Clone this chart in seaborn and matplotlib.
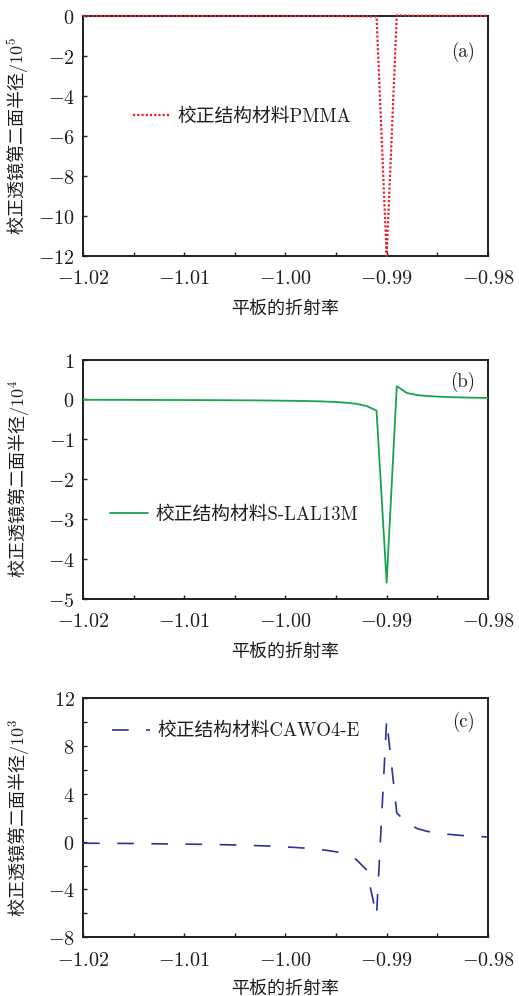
import matplotlib
matplotlib.use("Agg")
import matplotlib.pyplot as plt
import seaborn as sns
import pandas as pd
from matplotlib.ticker import MultipleLocator, FuncFormatter
from matplotlib.font_manager import FontProperties

# refractive index of the flat plate (x axis)
plate_index = [
    -1.020, -1.019, -1.018, -1.017, -1.016, -1.015, -1.014, -1.013, -1.012, -1.011,
    -1.010, -1.009, -1.008, -1.007, -1.006, -1.005, -1.004, -1.003, -1.002, -1.001,
    -1.000, -0.999, -0.998, -0.997, -0.996, -0.995, -0.994, -0.993, -0.992, -0.991,
    -0.990, -0.989, -0.988, -0.987, -0.986, -0.985, -0.984, -0.983, -0.982, -0.981,
    -0.980,
]

# second-surface radius of the correcting lens, PMMA (units of 1e5)
radius_pmma = [
    -0.001, -0.001, -0.001, -0.001, -0.001, -0.001, -0.001, -0.001, -0.002, -0.002,
    -0.002, -0.002, -0.002, -0.002, -0.002, -0.002, -0.003, -0.003, -0.003, -0.003,
    -0.004, -0.004, -0.005, -0.005, -0.006, -0.007, -0.009, -0.012, -0.018, -0.030,
    -12.0, 0.030, 0.015, 0.010, 0.008, 0.007, 0.006, 0.005, 0.004, 0.004,
    0.004,
]

# S-LAL13M (units of 1e4)
radius_slal13m = [
    -0.010, -0.011, -0.011, -0.012, -0.012, -0.013, -0.013, -0.014, -0.015, -0.015,
    -0.016, -0.017, -0.018, -0.019, -0.020, -0.022, -0.023, -0.025, -0.027, -0.030,
    -0.033, -0.036, -0.041, -0.047, -0.055, -0.066, -0.083, -0.110, -0.165, -0.280,
    -4.60, 0.33, 0.16, 0.11, 0.085, 0.070, 0.060, 0.052, 0.046, 0.041,
    0.037,
]

# CAWO4-E (units of 1e3)
radius_cawo4 = [
    -0.13, -0.14, -0.14, -0.15, -0.15, -0.16, -0.17, -0.18, -0.19, -0.20,
    -0.21, -0.22, -0.23, -0.25, -0.26, -0.28, -0.30, -0.33, -0.36, -0.40,
    -0.45, -0.49, -0.55, -0.62, -0.72, -0.85, -1.08, -1.50, -2.35, -6.20,
    10.2, 2.40, 1.55, 1.10, 0.86, 0.72, 0.62, 0.54, 0.48, 0.43,
    0.39,
]

series_labels = ["校正结构材料PMMA", "校正结构材料S-LAL13M", "校正结构材料CAWO4-E"]
panel_tags = ["(a)", "(b)", "(c)"]
y_labels = ["校正透镜第二面半径$/10^5$", "校正透镜第二面半径$/10^4$", "校正透镜第二面半径$/10^3$"]
x_label = "平板的折射率"

sns.set_style("white")
plt.rcParams["mathtext.fontset"] = "cm"
plt.rcParams["font.family"] = ["Noto Sans CJK SC", "DejaVu Sans"]

INK = "#1e1e1e"
mixed = ["cmr10", "Noto Sans CJK SC", "DejaVu Serif"]
legend_font = FontProperties(family=mixed, size=13.5)
label_font = FontProperties(family=mixed, size=13)
ylabel_font = FontProperties(family="Noto Sans CJK SC", size=13)
tag_font = FontProperties(family=mixed, size=13.5)

fig = plt.figure(figsize=(5.19, 9.96), dpi=100)

axes_boxes = [
    [0.160, 0.743, 0.780, 0.241],
    [0.160, 0.399, 0.780, 0.240],
    [0.160, 0.059, 0.780, 0.240],
]

styles = [
    dict(color="#e8212b", linewidth=1.6, linestyle=(0, (1.0, 0.9))),
    dict(color="#17a54a", linewidth=1.3, linestyle="-"),
    dict(color="#2b3196", linewidth=1.2, linestyle=(0, (10.0, 10.5))),
]

y_limits = [(-12, 0), (-5, 1), (-8, 12)]
y_major = [2, 1, 4]
y_minor = [2, 1, 2]
legend_anchor = [(0.123, 0.579), (0.067, 0.351), (0.072, 0.862)]
tag_pos = [(0.968, 0.85), (0.968, 0.908), (0.968, 0.902)]
xlabel_y = [-0.185, -0.185, -0.178]

tables = [
    pd.DataFrame({"n": plate_index, "r": radius_pmma}),
    pd.DataFrame({"n": plate_index, "r": radius_slal13m}),
    pd.DataFrame({"n": plate_index, "r": radius_cawo4}),
]

for i, box in enumerate(axes_boxes):
    ax = fig.add_axes(box)
    sns.lineplot(data=tables[i], x="n", y="r", ax=ax, label=series_labels[i],
                 zorder=3, clip_on=(i != 0), **styles[i])
    ax.set_xlim(-1.02, -0.98)
    ax.set_ylim(*y_limits[i])
    ax.xaxis.set_major_locator(MultipleLocator(0.01))
    ax.xaxis.set_minor_locator(MultipleLocator(0.005))
    ax.yaxis.set_major_locator(MultipleLocator(y_major[i]))
    ax.yaxis.set_minor_locator(MultipleLocator(y_minor[i]))
    ax.xaxis.set_major_formatter(FuncFormatter(lambda v, p: f"${v:.2f}$"))
    ax.yaxis.set_major_formatter(FuncFormatter(lambda v, p: f"${v:.0f}$"))
    ax.tick_params(axis="both", which="both", direction="in", length=3,
                   width=1.0, bottom=True, left=True, top=False, right=False,
                   labelsize=14.5, colors=INK)
    ax.tick_params(axis="x", pad=9)
    ax.tick_params(axis="y", pad=6)
    for sp in ax.spines.values():
        sp.set_linewidth(1.4)
        sp.set_color(INK)
    ax.set_xlabel(x_label, fontproperties=label_font, color=INK)
    ax.xaxis.set_label_coords(0.5, xlabel_y[i])
    ax.set_ylabel(y_labels[i], fontproperties=ylabel_font, color=INK)
    ax.yaxis.set_label_coords(-0.128, 0.5)
    ax.text(tag_pos[i][0], tag_pos[i][1], panel_tags[i], transform=ax.transAxes,
            ha="right", va="center", fontproperties=tag_font, color=INK)
    leg = ax.legend(loc="center left", bbox_to_anchor=legend_anchor[i], frameon=False,
                    prop=legend_font, handlelength=2.0, handletextpad=0.4,
                    borderaxespad=0, borderpad=0)
    for t in leg.get_texts():
        t.set_color(INK)

fig.savefig("out.png", dpi=100)
